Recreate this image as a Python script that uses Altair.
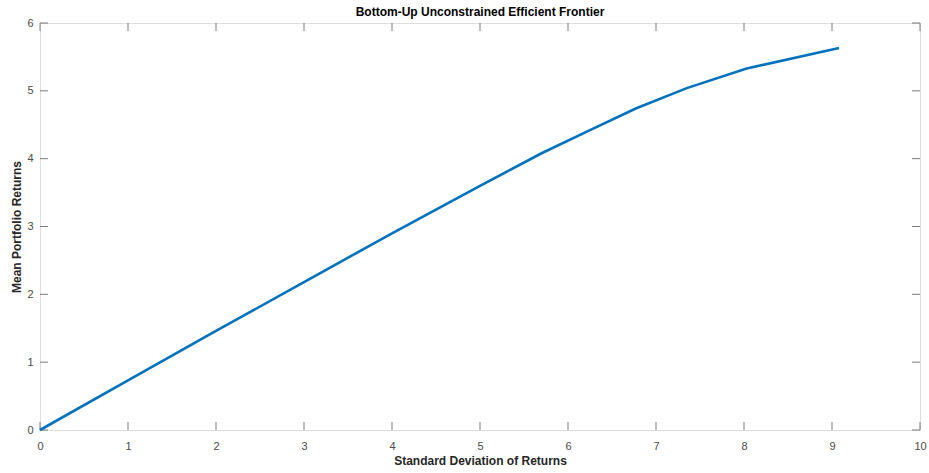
import altair as alt
import pandas as pd

# Efficient frontier: risk (std dev) vs. mean portfolio return
std_dev = [0.0, 1.0, 2.0, 3.0, 4.0, 5.0, 5.7, 6.25, 6.77, 7.35, 8.03, 9.08]
mean_ret = [0.0, 0.73, 1.46, 2.18, 2.90, 3.60, 4.08, 4.42, 4.74, 5.04, 5.33, 5.63]

x_ticks = [0, 1, 2, 3, 4, 5, 6, 7, 8, 9, 10]
y_ticks = [0, 1, 2, 3, 4, 5, 6]

W, H = 880, 407
FONT = "Liberation Sans"
AX = "#7a7a7a"
TICK_LEN = 8

frontier = pd.DataFrame({"sd": std_dev, "ret": mean_ret})
xt = pd.DataFrame({"v": x_ticks})
yt = pd.DataFrame({"v": y_ticks})

xs = alt.Scale(domain=[0, 10], nice=False, zero=False)
ys = alt.Scale(domain=[0, 6], nice=False, zero=False)

line = alt.Chart(frontier).mark_line(color="#0072BD", strokeWidth=2.6).encode(
    x=alt.X("sd:Q", scale=xs, axis=alt.Axis(
        title="Standard Deviation of Returns", values=x_ticks, format="d",
        ticks=False, domain=False, grid=False, labelPadding=10,
        labelFlush=False,
        labelFontSize=11, labelColor="#4a4a4a", labelFont=FONT,
        titleFont=FONT, titleFontSize=12, titleFontWeight="bold",
        titleColor="#262626", titlePadding=4)),
    y=alt.Y("ret:Q", scale=ys, axis=alt.Axis(
        title="Mean Portfolio Returns", values=y_ticks, format="d",
        ticks=False, domain=False, grid=False, labelPadding=7,
        labelFlush=False,
        labelFontSize=11, labelColor="#4a4a4a", labelFont=FONT,
        titleFont=FONT, titleFontSize=12, titleFontWeight="bold",
        titleColor="#262626", titlePadding=3)),
)

# inward ticks on all four sides of the box
bottom_ticks = alt.Chart(xt).mark_rule(color=AX, strokeWidth=1).encode(
    x=alt.X("v:Q", scale=xs), y=alt.value(H), y2=alt.value(H - TICK_LEN))
top_ticks = alt.Chart(xt).mark_rule(color=AX, strokeWidth=1).encode(
    x=alt.X("v:Q", scale=xs), y=alt.value(0), y2=alt.value(TICK_LEN))
left_ticks = alt.Chart(yt).mark_rule(color=AX, strokeWidth=1).encode(
    y=alt.Y("v:Q", scale=ys), x=alt.value(0), x2=alt.value(TICK_LEN))
right_ticks = alt.Chart(yt).mark_rule(color=AX, strokeWidth=1).encode(
    y=alt.Y("v:Q", scale=ys), x=alt.value(W), x2=alt.value(W - TICK_LEN))

chart = alt.layer(
    bottom_ticks, top_ticks, left_ticks, right_ticks, line
).properties(
    width=W, height=H,
    autosize=alt.AutoSizeParams(type="none"),
    padding={"left": 40, "top": 23, "right": 9, "bottom": 43},
    title=alt.TitleParams(
        "Bottom-Up Unconstrained Efficient Frontier",
        font=FONT, fontSize=12, fontWeight="bold", color="#000000",
        anchor="middle", baseline="top", offset=5, dy=7),
).configure_view(
    stroke=AX, strokeWidth=1.2
).configure(background="white")

chart.save("out.html", embed_options={"renderer": "svg", "actions": False})
